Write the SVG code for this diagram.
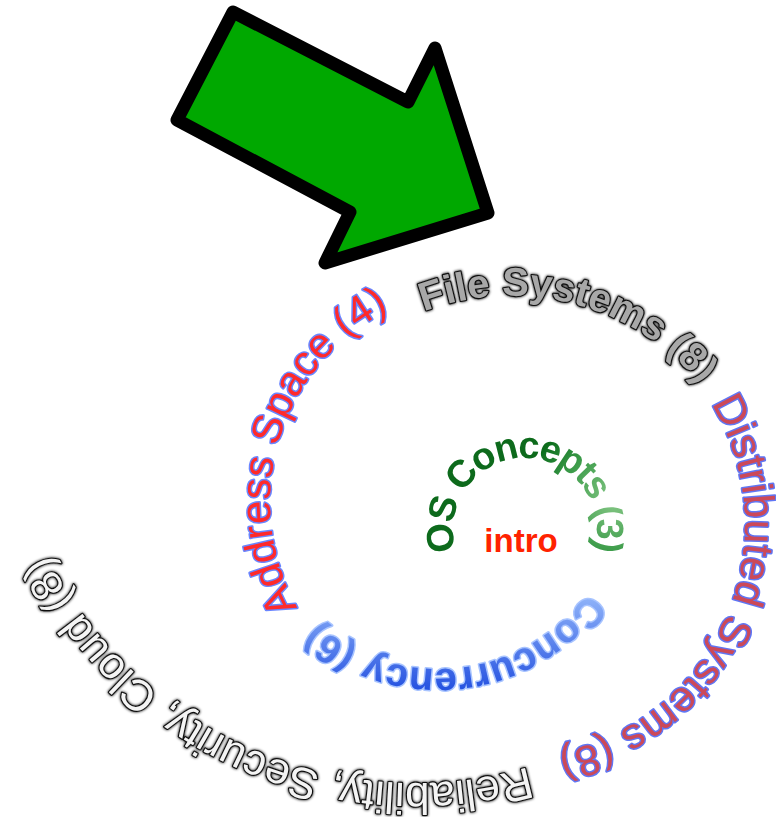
<svg xmlns="http://www.w3.org/2000/svg" xmlns:xlink="http://www.w3.org/1999/xlink" width="776" height="817" viewBox="0 0 776 817">
<style>
  text { font-family: "Liberation Sans", Arial, sans-serif; }
  .bold { font-weight: bold; }
  .outline { stroke: #111; stroke-width: 2.2; paint-order: stroke; stroke-linejoin: round; }
  .glow { stroke-linejoin: round; paint-order: stroke; }
</style>
<defs>
  <path id="p1" d="M456.1,551.1 A72,72 0 1 1 515,601.3"/>
  <path id="p2" d="M587.7,592.7 A185,185 0 0 1 264.2,547.3"/>
  <path id="p3" d="M297.7,607.4 A214,214 0 0 1 476.5,288.1"/>
  <path id="p4" d="M423.9,311.6 A246,246 0 0 1 723,417"/>
  <path id="p5" d="M711.1,403.5 A233,233 0 0 1 471.5,754"/>
  <path id="p6" d="M528.3,767.1 A411,411 0 0 1 18,478.4"/>
  <radialGradient id="gGreen" gradientUnits="userSpaceOnUse" cx="615" cy="500" r="90">
    <stop offset="0" stop-color="#86c886"/>
    <stop offset="0.6" stop-color="#3a9a48"/>
    <stop offset="1" stop-color="#0a6a1a"/>
  </radialGradient>
  <linearGradient id="gBlue" gradientUnits="userSpaceOnUse" x1="0" y1="600" x2="0" y2="690">
    <stop offset="0" stop-color="#8cb0f8"/>
    <stop offset="1" stop-color="#2552e0"/>
  </linearGradient>
  <filter id="shadow" x="-10%" y="-10%" width="120%" height="120%">
    <feGaussianBlur in="SourceAlpha" stdDeviation="1.4" result="b"/>
    <feComponentTransfer in="b" result="bb"><feFuncA type="linear" slope="1.1"/></feComponentTransfer>
    <feMerge><feMergeNode in="bb"/><feMergeNode in="SourceGraphic"/></feMerge>
  </filter>
  <filter id="soft" x="-10%" y="-10%" width="120%" height="120%">
    <feGaussianBlur stdDeviation="0.5"/>
  </filter>
</defs>

<g id="arrow">
  <path d="M233,12 L177,120 L350,212 L325,263 L488,213 L435,48 L408,102 Z" fill="#00a800" stroke="#000" stroke-width="13" stroke-linejoin="round"/>
</g>

<g id="node-os-concepts" filter="url(#soft)">
  <text class="bold" font-size="38" letter-spacing="-2" fill="url(#gGreen)"><textPath href="#p1" xlink:href="#p1">OS Concepts (3)</textPath></text>
</g>

<g id="node-intro">
  <text class="bold" x="521" y="552" font-size="33" fill="#ff2200" text-anchor="middle">intro</text>
</g>

<g id="node-concurrency" filter="url(#soft)">
  <text class="bold glow" font-size="40" fill="url(#gBlue)" stroke="#a8c4ff" stroke-width="3"><textPath href="#p2" xlink:href="#p2">Concurrency (6)</textPath></text>
</g>

<g id="node-address-space" filter="url(#soft)">
  <text class="glow" font-size="42" fill="#ff2a2a" stroke="#6a86ff" stroke-width="3"><textPath href="#p3" xlink:href="#p3">Address Space (4)</textPath></text>
</g>

<g id="node-file-systems" filter="url(#shadow)">
  <text class="bold outline" font-size="40" fill="#a8a8a8"><textPath href="#p4" xlink:href="#p4">File Systems (8)</textPath></text>
</g>

<g id="node-distributed" filter="url(#soft)">
  <text class="glow" font-size="43" fill="#cc4a58" stroke="#6076f4" stroke-width="3"><textPath href="#p5" xlink:href="#p5">Distributed Systems (8)</textPath></text>
</g>

<g id="node-reliability" filter="url(#shadow)">
  <text class="outline" font-size="44" fill="#f4f4f4"><textPath href="#p6" xlink:href="#p6">Reliability, Security, Cloud (8)</textPath></text>
</g>
</svg>
